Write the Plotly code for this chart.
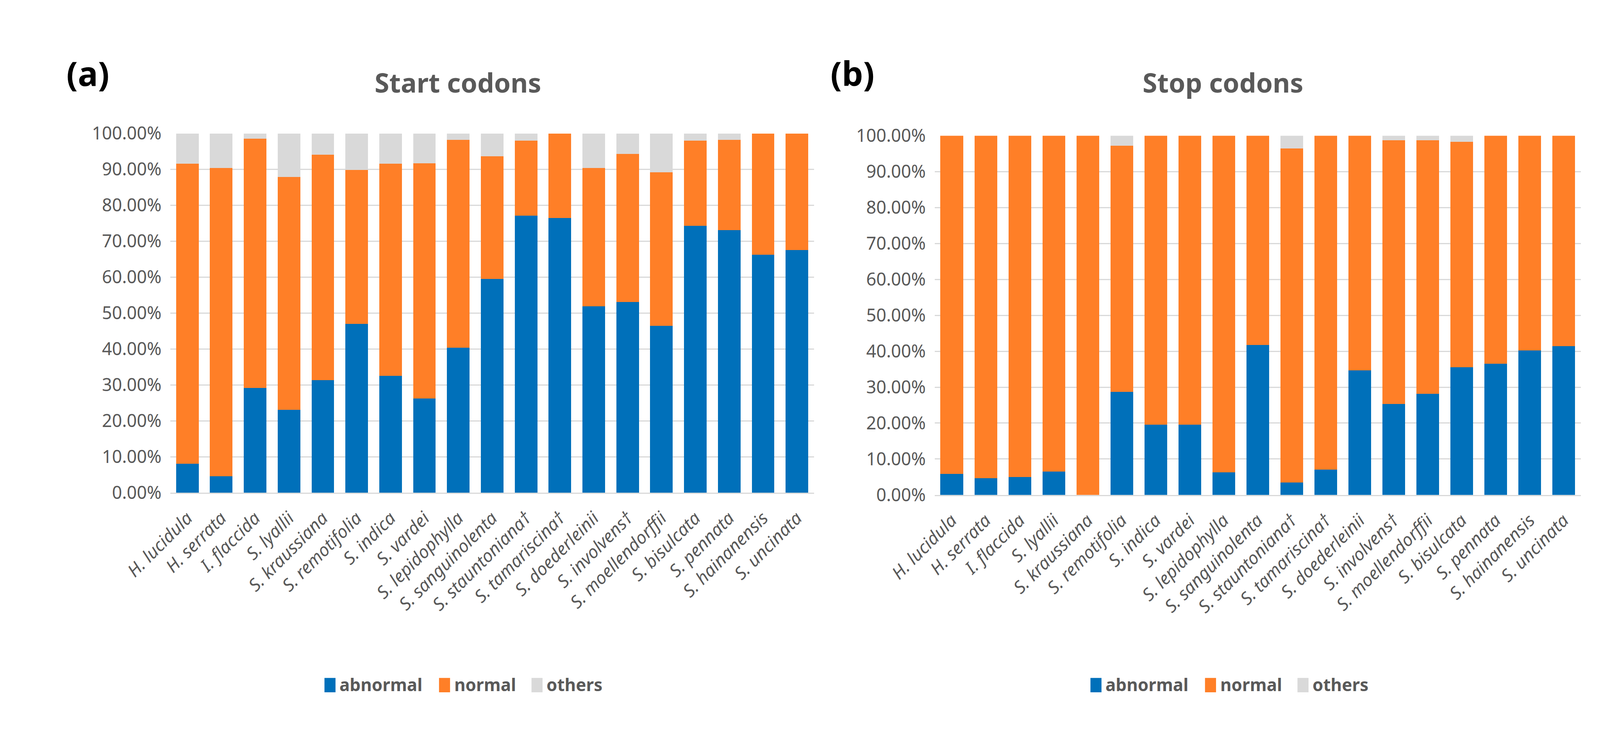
import plotly.graph_objects as go

species = ["H. lucidula", "H. serrata", "I. flaccida", "S. lyallii", "S. kraussiana",
           "S. remotifolia", "S. indica", "S. vardei", "S. lepidophylla", "S. sanguinolenta",
           "S. stauntoniana†", "S. tamariscina†", "S. doederleinii", "S. involvens†",
           "S. moellendorffii", "S. bisulcata", "S. pennata", "S. hainanensis", "S. uncinata"]

# Start codons (%)
start_abnormal = [8.0, 4.6, 29.2, 23.1, 31.3, 47.0, 32.5, 26.2, 40.4, 59.5,
                  77.1, 76.5, 51.9, 53.1, 46.5, 74.3, 73.1, 66.2, 67.6]
start_normal = [83.6, 85.8, 69.3, 64.8, 62.8, 42.8, 59.1, 65.5, 57.8, 34.2,
                20.9, 23.5, 38.5, 41.2, 42.7, 23.7, 25.1, 33.8, 32.4]
start_others = [8.4, 9.6, 1.5, 12.1, 5.9, 10.2, 8.4, 8.3, 1.8, 6.3,
                2.0, 0.0, 9.6, 5.7, 10.8, 2.0, 1.8, 0.0, 0.0]

# Stop codons (%)
stop_abnormal = [5.9, 4.7, 5.0, 6.5, 0.0, 28.7, 19.6, 19.6, 6.3, 41.7,
                 3.5, 7.1, 34.7, 25.3, 28.1, 35.6, 36.5, 40.2, 41.4]
stop_normal = [94.1, 95.3, 95.0, 93.5, 100.0, 68.5, 80.4, 80.4, 93.7, 58.3,
               93.0, 92.9, 65.3, 73.4, 70.6, 62.7, 63.5, 59.8, 58.6]
stop_others = [0.0, 0.0, 0.0, 0.0, 0.0, 2.8, 0.0, 0.0, 0.0, 0.0,
               3.5, 0.0, 0.0, 1.3, 1.3, 1.7, 0.0, 0.0, 0.0]

series_names = ["abnormal", "normal", "others"]
colors = ["#0070BA", "#FF7F27", "#D9D9D9"]

# reference canvas (used for relative placement) and real browser canvas
REF_W, REF_H = 5621, 1889
FIG_W, FIG_H = 4096, 1889
FONT = "Noto Sans"
GREY = "#595959"

fig = go.Figure()

panels = [
    ("x", "y", [start_abnormal, start_normal, start_others]),
    ("x2", "y2", [stop_abnormal, stop_normal, stop_others]),
]
for xa, ya, vals in panels:
    for name, col, v in zip(series_names, colors, vals):
        fig.add_trace(go.Bar(x=species, y=v, name=name, marker=dict(color=col, line=dict(width=0)),
                             xaxis=xa, yaxis=ya, showlegend=False))


def px_x(p):
    return p / REF_W


def px_y(p):
    return 1 - p / REF_H


xaxis_common = dict(
    type="category", showline=True, linecolor="#D9D9D9", linewidth=3,
    showgrid=False, ticks="", tickangle=-45,
    tickfont=dict(family=FONT, size=45, color=GREY, style="italic"),
    ticklabelstandoff=18,
)
yaxis_common = dict(
    range=[0, 100], dtick=10, tickformat=".2f", ticksuffix="%",
    showgrid=True, gridcolor="#D9D9D9", gridwidth=3, zeroline=False, showline=False,
    tickfont=dict(family=FONT, size=45, color=GREY), ticklabelstandoff=22,
)

fig.update_layout(
    width=FIG_W, height=FIG_H, margin=dict(l=0, r=0, t=0, b=0),
    paper_bgcolor="white", plot_bgcolor="white",
    barmode="stack", bargap=0.333,
    xaxis=dict(domain=[px_x(442), px_x(2773)], anchor="y", **xaxis_common),
    yaxis=dict(domain=[px_y(1270), px_y(320)], anchor="x", **yaxis_common),
    xaxis2=dict(domain=[px_x(3211), px_x(5551)], anchor="y2", **xaxis_common),
    yaxis2=dict(domain=[px_y(1276), px_y(326)], anchor="x2", **yaxis_common),
    font=dict(family=FONT, color=GREY),
)

annotations = [
    dict(text="<b>(a)</b>", x=px_x(62), y=px_y(160), xanchor="left", yanchor="middle",
         font=dict(family=FONT, size=86, color="black")),
    dict(text="<b>(b)</b>", x=px_x(2831), y=px_y(160), xanchor="left", yanchor="middle",
         font=dict(family=FONT, size=86, color="black")),
    dict(text="<b>Start codons</b>", x=px_x(1484), y=px_y(184), xanchor="center", yanchor="middle",
         font=dict(family=FONT, size=68, color=GREY)),
    dict(text="<b>Stop codons</b>", x=px_x(4256), y=px_y(184), xanchor="center", yanchor="middle",
         font=dict(family=FONT, size=68, color=GREY)),
]

shapes = []
legend_sets = [
    ([1000, 1415, 1750], [1052, 1467, 1802]),
    ([3775, 4190, 4525], [3827, 4242, 4577]),
]
for sq_x, tx_x in legend_sets:
    for name, col, sx, tx in zip(series_names, colors, sq_x, tx_x):
        shapes.append(dict(type="rect", xref="paper", yref="paper",
                           x0=px_x(sx), x1=px_x(sx + 40), y0=px_y(1798), y1=px_y(1760),
                           fillcolor=col, line=dict(width=0)))
        annotations.append(dict(text="<b>" + name + "</b>", x=px_x(tx), y=px_y(1777),
                                xanchor="left", yanchor="middle", showarrow=False,
                                font=dict(family=FONT, size=44, color=GREY)))

for a in annotations:
    a.setdefault("showarrow", False)
    a["xref"] = "paper"
    a["yref"] = "paper"

fig.update_layout(annotations=annotations, shapes=shapes)
fig.write_html("out.html", post_script="document.body.style.margin='0';",
               config={"displayModeBar": False})
